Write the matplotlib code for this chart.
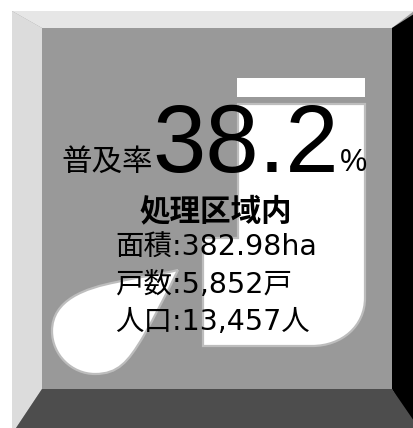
#!/usr/bin/env python3
"""Sewerage coverage panel: bevelled frame, faucet pictogram and figures."""
import matplotlib
matplotlib.use("Agg")
import matplotlib.pyplot as plt
from matplotlib.patches import PathPatch, Polygon, Rectangle
from matplotlib.path import Path

RATE_LABEL = "普及率"
RATE_VALUE = "38.2"
RATE_UNIT = "%"
AREA_TITLE = "処理区域内"
AREA_LINES = ["面積:382.98ha", "戸数:5,852戸", "人口:13,457人"]

LATIN_CJK = ["DejaVu Sans", "Noto Sans CJK JP"]
GRAY = "#999999"
EDGE = "#bdbdbd"

fig = plt.figure(figsize=(4.14, 4.28), dpi=100, facecolor="white")
ax = fig.add_axes([0, 0, 1, 1])
ax.set_xlim(0, 414); ax.set_ylim(428, 0)
ax.axis("off")

# ---- frame ----
ax.add_patch(Polygon([(12, 11), (414, 11), (414, 428), (12, 428)], fc=GRAY, ec="none"))
ax.add_patch(Polygon([(12, 11), (414, 11), (392, 28), (42, 28)], fc="#e6e6e6", ec="none"))
ax.add_patch(Polygon([(12, 11), (42, 28), (42, 389), (16, 428), (12, 428)], fc="#dcdcdc", ec="none"))
ax.add_patch(Polygon([(414, 14), (414, 428), (392, 389), (392, 28)], fc="black", ec="none"))
ax.add_patch(Polygon([(42, 389), (392, 389), (414, 421), (414, 428), (16, 428)], fc="#4d4d4d", ec="none"))

# ---- faucet ----
ax.add_patch(Rectangle((237, 78), 128, 19, fc="white", ec="none"))
body = Path(
    [(238, 104), (365, 104), (365, 298), (365, 326), (342, 346), (312, 346),
     (203, 346), (203, 238), (238, 238), (238, 104)],
    [Path.MOVETO, Path.LINETO, Path.LINETO, Path.CURVE4, Path.CURVE4, Path.CURVE4,
     Path.LINETO, Path.LINETO, Path.LINETO, Path.CLOSEPOLY])
ax.add_patch(PathPatch(body, fc="white", ec=EDGE, lw=1.6))
drop = Path(
    [(178, 270), (158, 275), (137, 277), (117, 282), (85, 288), (52, 300), (52, 331),
     (52, 355), (72, 374), (95, 374), (118, 374), (128, 362), (143, 337),
     (155, 316), (167, 293), (178, 270)],
    [Path.MOVETO] + [Path.CURVE4] * 15)
ax.add_patch(PathPatch(drop, fc="white", ec=EDGE, lw=1.6))

# ---- text ----
ax.text(61, 171, RATE_LABEL, fontsize=22, family=LATIN_CJK, va="baseline", ha="left")
ax.text(152, 172, RATE_VALUE, fontsize=69, family="Liberation Sans", va="baseline", ha="left")
ax.text(340, 171, RATE_UNIT, fontsize=22, family="Liberation Sans", va="baseline", ha="left")
ax.text(216, 220, AREA_TITLE, fontsize=22, family=LATIN_CJK, weight="bold", va="baseline", ha="center")
for line, y in zip(AREA_LINES, [256, 293, 330]):
    ax.text(115, y, line, fontsize=20.5, family=LATIN_CJK, va="baseline", ha="left")

fig.savefig("out.png", dpi=100)
